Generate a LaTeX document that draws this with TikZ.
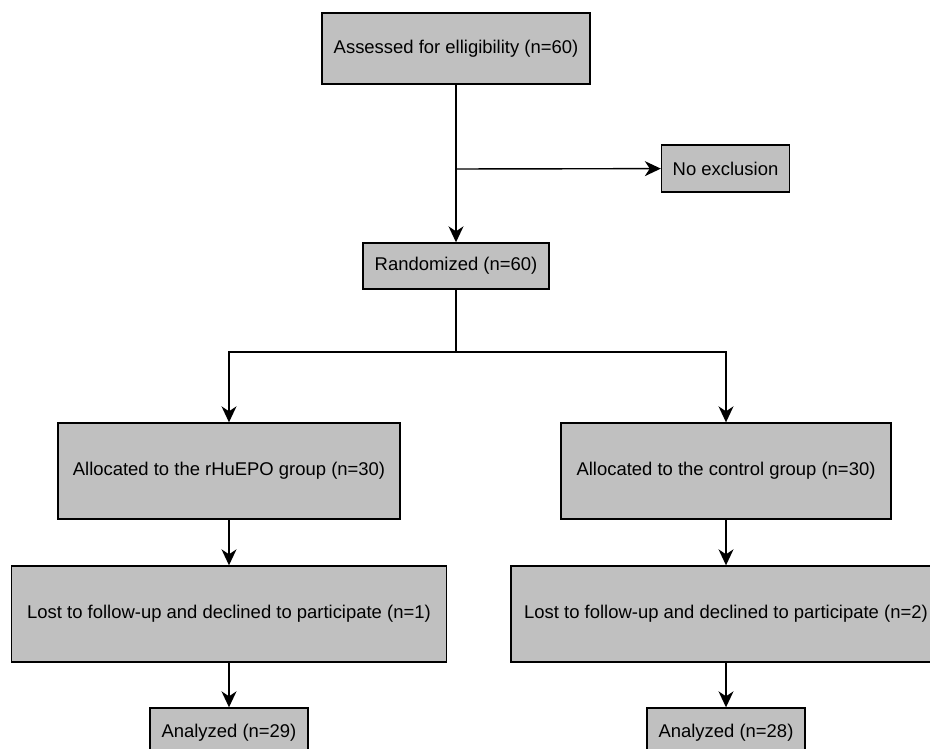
\documentclass[tikz,border=0pt]{standalone}
\usepackage{fontspec}
\setmainfont{Liberation Sans}
\usetikzlibrary{arrows.meta}
\definecolor{boxgray}{RGB}{192,192,192}

\begin{document}
\begin{tikzpicture}[x=0.02cm, y=-0.02cm,
    box/.style={draw=black, fill=boxgray, line width=0.8pt, inner sep=0pt,
                font=\fontsize{10.5}{12.6}\selectfont},
    flow/.style={line width=0.8pt, -{Stealth[length=3.2mm, width=3mm, inset=1mm]}}]
    \useasboundingbox (0,0) rectangle (930,749);

    % Define the boxes
    \node[box, minimum width=5.36cm, minimum height=1.42cm] (assess) at (456,48.5) {Assessed for elligibility (n=60)};
    \node[box, minimum width=2.56cm, minimum height=0.94cm] (noexcl) at (725.5,168.5) {No exclusion};
    \node[box, minimum width=3.72cm, minimum height=0.92cm] (random) at (456,266) {Randomized (n=60)};
    \node[box, minimum width=6.84cm, minimum height=1.92cm] (allocL) at (229,471) {Allocated to the rHuEPO group (n=30)};
    \node[box, minimum width=6.6cm, minimum height=1.92cm] (allocR) at (726,471) {Allocated to the control group (n=30)};
    \node[box, minimum width=8.7cm, minimum height=1.92cm] (lostL) at (229,614) {Lost to follow-up and declined to participate (n=1)};
    \node[box, minimum width=8.6cm, minimum height=1.92cm] (lostR) at (726,614) {Lost to follow-up and declined to participate (n=2)};
    \node[box, minimum width=3.16cm, minimum height=1cm] (anaL) at (229,733) {Analyzed (n=29)};
    \node[box, minimum width=3.16cm, minimum height=1cm] (anaR) at (726,733) {Analyzed (n=28)};

    % Define branch points
    \coordinate (excl) at (456,169);
    \coordinate (split) at (456,352);

    % Draw the connectors
    \draw[flow] (assess) -- (random);
    \draw[flow] (excl) -- (noexcl);
    \draw[line width=0.8pt] (random) -- (split);
    \draw[flow] (split) -| (allocL);
    \draw[flow] (split) -| (allocR);
    \draw[flow] (allocL) -- (lostL);
    \draw[flow] (allocR) -- (lostR);
    \draw[flow] (lostL) -- (anaL);
    \draw[flow] (lostR) -- (anaR);
\end{tikzpicture}
\end{document}
